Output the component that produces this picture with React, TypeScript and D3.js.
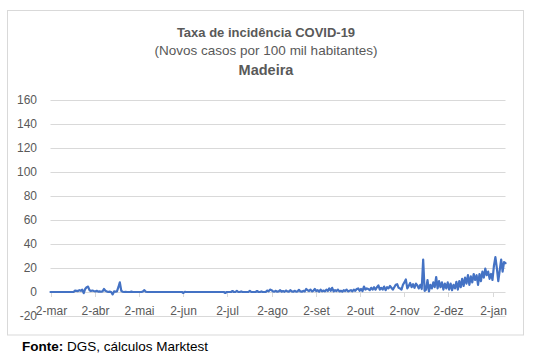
import React from "react";
import * as d3 from "d3";

// Daily incidence (new cases per 100k), Madeira, 2 Mar 2020 - 11 Jan 2021
const mar = [0,0,0,0,0,0,0,0,0,0,0,0,0,0,0,0,0,1.2,1,0.8,1.5,1,2,-1,2.5,4,4.5,1.5,0.8,1.2];
const abr = [0.8,0.5,1,0.3,0.5,0.2,0.5,2.5,1,0.5,0,0.3,0,-2,0.5,0.3,0.5,4,8,1,0.2,0,0.2,0,0,0,0.3,0,0,0];
const mai = [0,0,0,0,0.5,1.5,0.2,0,0,0,0,0,0,0,0,0,0,0,0,0,0,0,0,0,0,0,0,0,0,0,0];
const jun = [0,-0.8,0.2,0,0,0,0,0,0,0,0,0,0,0,0,0,0,0,0,0,0,0,0,0,0,0,0,0,0,0];
const jul = [-0.8,0,0,0,0,0.8,0,0,1,0,0,0.5,0,0,0,0,0,1,0,0,0,0,0.8,0,0,0.5,0,0,0,1.2,0.5];
const ago = [2,1.5,0.5,0.3,1,0.2,0.5,1.5,0.3,0.8,0.2,1.2,0.5,0.3,1.5,0.5,0.2,1,0.3,0.5,1.8,0.5,0.2,1,0.5,2.5,1.5,0.8,2,0.5,1];
const set = [2.5,0.8,1.5,0.3,2,0.5,1.2,0.5,2,0.8,3,1,3.5,0.5,1.5,0.8,2,0.5,1,0.3,1.5,0.8,2,0.5,1,1.5,0.5,2,1,2.5];
const out = [3,1,2.5,0.8,4.5,2,3,2.5,1.5,3.5,2,4,2,4,5.5,2,3.5,2,4.5,1.5,4,3,5,3.5,2,4,6,6.5,3.5,3,2];
const nov = [6,8,10.5,3,5,7.5,4,6.5,3.5,7,5.5,3,6,2.5,27,1,2,10,0.5,6,3,8,4,12.5,3,9,4,8,2,7];
const dez = [3,8,2,7,1.5,6,3,8.5,2,9,4,11,5,12,7,14,6,13,8,15,10,14,6,15,9,17,12,19.5,14,17,11];
const jan = [15,10,22,29,20,9,18,27,17,25,24];

const startDate = "2020-03-02";
const endDate = "2021-01-11";
const yTicks = [-20, 0, 20, 40, 60, 80, 100, 120, 140, 160];
const xTickDates = ["2020-03-02","2020-04-02","2020-05-02","2020-06-02","2020-07-02","2020-08-02","2020-09-02","2020-10-02","2020-11-02","2020-12-02","2021-01-02"];
const xTickLabels = ["2-mar","2-abr","2-mai","2-jun","2-jul","2-ago","2-set","2-out","2-nov","2-dez","2-jan"];

const title = "Taxa de incidência COVID-19";
const subtitle = "(Novos casos por 100 mil habitantes)";
const region = "Madeira";

const parse = d3.utcParse("%Y-%m-%d");

export default function App() {
  const values = [...mar, ...abr, ...mai, ...jun, ...jul, ...ago, ...set, ...out, ...nov, ...dez, ...jan];
  const start = parse(startDate) as Date;
  const data = values.map((v, i) => ({ date: d3.utcDay.offset(start, i), value: v }));

  const x = d3.scaleUtc().domain([start, parse(endDate) as Date]).range([50.5, 505.5]);
  const y = d3.scaleLinear().domain([-20, 160]).range([316, 100]);

  const line = d3
    .line<{ date: Date; value: number }>()
    .x((d) => x(d.date))
    .y((d) => y(d.value));

  const font = "'Liberation Sans', Arial, sans-serif";
  const grey = "#595959";
  const cx = 266;

  return (
    <svg
      width={535}
      height={363}
      style={{ position: "absolute", left: 0, top: 0, display: "block", background: "#fff" }}
      fontFamily={font}
    >
      <rect x={0} y={0} width={535} height={363} fill="#fff" />
      <rect x={7.5} y={10.5} width={516} height={324.5} fill="#fff" stroke="#d9d9d9" strokeWidth={1} />

      <text x={cx} y={36.5} textAnchor="middle" fontSize={13} fontWeight="bold" fill={grey}>{title}</text>
      <text x={cx} y={55} textAnchor="middle" fontSize={13.5} fill={grey}>{subtitle}</text>
      <text x={cx} y={75} textAnchor="middle" fontSize={14.5} fontWeight="bold" fill={grey}>{region}</text>

      {yTicks.map((t) => (
        <g key={t}>
          <line x1={50.5} x2={505.5} y1={Math.round(y(t)) + 0.5} y2={Math.round(y(t)) + 0.5} stroke="#d9d9d9" strokeWidth={1} />
          <text x={37} y={y(t) + 4.3} textAnchor="end" fontSize={12} fill={grey}>{t}</text>
        </g>
      ))}

      {xTickDates.map((ds, i) => {
        const xp = Math.round(x(parse(ds) as Date)) + 0.5;
        return (
          <g key={ds}>
            <line x1={xp} x2={xp} y1={y(0)} y2={y(0) + 5} stroke="#d9d9d9" strokeWidth={1} />
            <text x={xp} y={315} textAnchor="middle" fontSize={12} fill={grey}>{xTickLabels[i]}</text>
          </g>
        );
      })}

      <path d={line(data) || ""} fill="none" stroke="#4472C4" strokeWidth={2.2} strokeLinejoin="round" strokeLinecap="round" />

      <text x={22} y={351} fontSize={13.5} fill="#000">
        <tspan fontWeight="bold">Fonte:</tspan>
        <tspan> DGS, cálculos Marktest</tspan>
      </text>
    </svg>
  );
}
